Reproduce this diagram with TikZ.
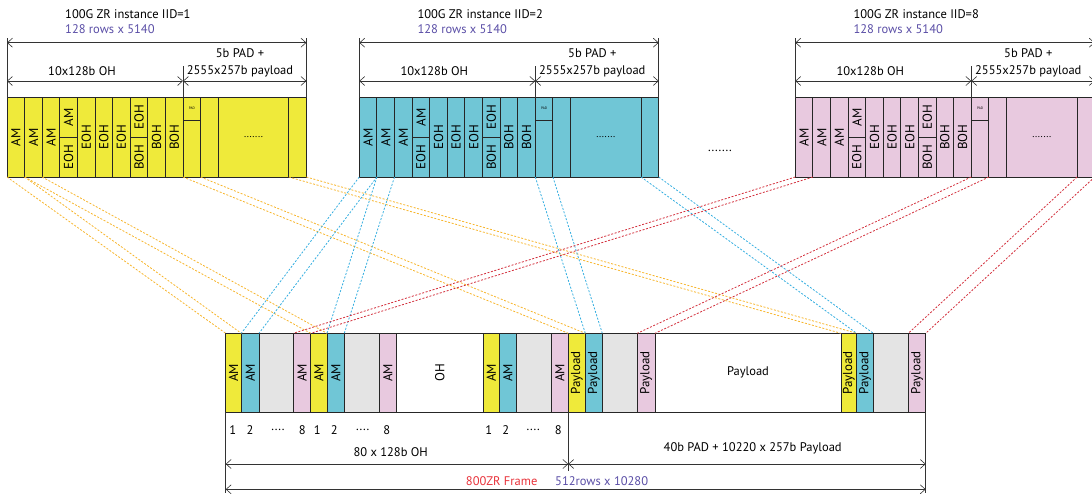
\documentclass[tikz,border=0pt]{standalone}
\usepackage{fontspec}
\setmainfont{PT Sans}
\usetikzlibrary{arrows.meta,calc,positioning}
\definecolor{zyellow}{HTML}{EFEA3A}
\definecolor{zcyan}{HTML}{70C6D6}
\definecolor{zpink}{HTML}{E8C9DF}
\definecolor{zgray}{HTML}{E4E4E4}
\definecolor{lnorange}{HTML}{F7B52C}
\definecolor{lncyan}{HTML}{35AEE0}
\definecolor{lnred}{HTML}{D32F3C}
\definecolor{txtblue}{HTML}{5A4EA6}
\definecolor{txtred}{HTML}{E8323A}
\tikzset{
  cell/.style={draw=black!85,line width=1pt,fill=#1,anchor=north west,inner sep=0pt,outer sep=0pt,
    minimum width=17.6pt,minimum height=79.5pt},
  cell/.default=white,
  vlab/.style={rotate=90,inner sep=0pt,font=\fontsize{13}{15}\selectfont},
  lbl/.style={inner sep=0pt,font=\fontsize{12.5}{17}\selectfont},
  dim/.style={line width=0.6pt,black!80},
  dimarrow/.style={dim,{Straight Barb[length=5pt,width=9pt]}-{Straight Barb[length=5pt,width=9pt]}},
  link/.style={draw=#1,line width=0.8pt,dash pattern=on 2pt off 1.6pt}
}

\begin{document}
\begin{tikzpicture}[x=1pt,y=-1pt,>=Latex]
\clip (0,0) rectangle (1092,493);
% the three 100G ZR instances
\foreach \id/\xo/\col in {1/7/zyellow,2/359.3/zcyan,8/795.3/zpink}{
  \foreach \k in {1,...,12}
    \node[cell=\col] (i\id-\k) at ({\xo+(\k-1)*17.6},97.5) {};
  \node[cell=\col,minimum width=70.6pt,font=\fontsize{10}{12}\selectfont] (i\id-13) at (\xo+211.2,97.5) {.......};
  \node[cell=\col] (i\id-14) at (\xo+281.8,97.5) {};
  \node[cell=\col,minimum height=22.5pt,font=\fontsize{3.5}{4}\selectfont] (i\id-pad) at (i\id-11.north west) {PAD};
  \foreach \k/\t in {1/AM,2/AM,3/AM,5/EOH,6/EOH,7/EOH,9/BOH,10/BOH}
    \node[vlab] at (i\id-\k) {\t};
  \draw[line width=1pt,black!85] (i\id-4.west) -- (i\id-4.east);
  \draw[line width=1pt,black!85] (i\id-8.west) -- (i\id-8.east);
  \node[vlab] at ($(i\id-4.center)!0.5!(i\id-4.north)$) {AM};
  \node[vlab] at ($(i\id-4.center)!0.5!(i\id-4.south)$) {EOH};
  \node[vlab] at ($(i\id-8.center)!0.5!(i\id-8.north)$) {EOH};
  \node[vlab] at ($(i\id-8.center)!0.5!(i\id-8.south)$) {BOH};
  % dimensions
  \draw[dim] (i\id-1.north west) -- (i\id-1.north west |- 0,38);
  \draw[dim] (i\id-14.north east) -- (i\id-14.north east |- 0,38);
  \draw[dim] (i\id-11.north west) -- (i\id-11.north west |- 0,66);
  \draw[dimarrow] (i\id-1.north west |- 0,42.7) -- (i\id-14.north east |- 0,42.7);
  \draw[dimarrow] (i\id-1.north west |- 0,81) -- (i\id-11.north west |- 0,81);
  \draw[dimarrow] (i\id-11.north west |- 0,81) -- (i\id-14.north east |- 0,81);
  \node[lbl] at (\xo+75,71) {10x128b OH};
  \node[lbl,align=center] at (\xo+233,62.5) {5b PAD +\\2555x257b payload};
  \node[lbl,anchor=west] at (\xo+58,14) {100G ZR instance IID=\id};
  \node[lbl,anchor=west,text=txtblue] at (\xo+58,29) {128 rows x 5140};
}
\node[lbl] (gap) at (720,151) {.......};

% 800ZR frame
\foreach \n/\xa/\w/\col/\t in {1/225.7/15.6/zyellow/AM,2/241.3/17.7/zcyan/AM,3/259/34.3/zgray/{},
  4/293.3/17.4/zpink/AM,5/310.7/16.3/zyellow/AM,6/327/17.3/zcyan/AM,7/344.3/34.7/zgray/{},
  8/379/17.7/zpink/AM,9/396.7/86.3/white/OH,10/483/16.3/zyellow/AM,11/499.3/16.7/zcyan/AM,
  12/516/35/zgray/{},13/551/17.3/zpink/AM,14/568.3/17/zyellow/Payload,15/585.3/17/zcyan/Payload,
  16/602.3/35/zgray/{},17/637.3/17.7/zpink/Payload,18/655/186/white/{},19/841/15.7/zyellow/Payload,
  20/856.7/16.6/zcyan/Payload,21/873.3/35/zgray/{},22/908.3/17.4/zpink/Payload}{
  \node[cell=\col,minimum width=\w pt,minimum height=79pt] (f\n) at (\xa,333.3) {};
  \node[vlab] at (f\n) {\t};
}
\node[lbl] at (f18) {Payload};

% mapping of the instances into the frame
\foreach \a/\b/\c in {i1-1/f1/lnorange,i1-2/f5/lnorange,i1-11/f14/lnorange,i1-14/f19/lnorange,
  i2-1/f2/lncyan,i2-2/f6/lncyan,i2-11/f15/lncyan,i2-14/f20/lncyan,
  i8-1/f4/lnred,i8-11/f17/lnred,i8-14/f22/lnred}{
  \draw[link=\c] (\a.south west) -- (\b.north west);
  \draw[link=\c] (\a.south east) -- (\b.north east);
}

% frame dimensions
\foreach \xx/\t in {232.7/1,250/2,278/{....},302.3/8,317.3/1,334.3/2,362.7/{....},386.7/8,
  488.7/1,505.7/2,533.3/{....},558.3/8}
  \node[lbl] at (\xx,430) {\t};
\draw[dim] (f1.south west) -- (f1.south west |- 0,493);
\draw[dim] (f22.south east) -- (f22.south east |- 0,493);
\draw[dim] (f14.south west) -- (f14.south west |- 0,471);
\draw[dimarrow] (f1.south west |- 0,464) -- (f14.south west |- 0,464);
\draw[dimarrow] (f14.south west |- 0,464) -- (f22.south east |- 0,464);
\draw[dimarrow] (f1.south west |- 0,489.3) -- (f22.south east |- 0,489.3);
\node[lbl] at (390.7,452) {80 x 128b OH};
\node[lbl] at (752.7,448) {40b PAD + 10220 x 257b Payload};
\node[lbl,text=txtred] at (501.7,481) {800ZR Frame};
\node[lbl,text=txtblue,anchor=west] at (555,481) {512rows x 10280};
\end{tikzpicture}
\end{document}
